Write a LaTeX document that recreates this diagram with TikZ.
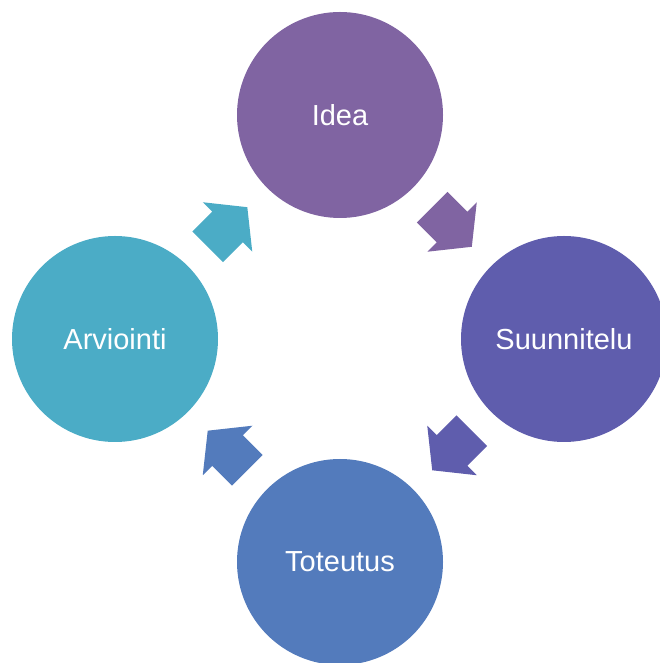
\documentclass[tikz,border=0pt]{standalone}
\usepackage{fontspec}
\setmainfont{Liberation Sans}
\usetikzlibrary{calc}
\definecolor{cIdea}{HTML}{8064A2}
\definecolor{cSuun}{HTML}{5F5DAD}
\definecolor{cTot}{HTML}{537BBC}
\definecolor{cArv}{HTML}{4BACC6}
\tikzset{
  stage/.style={circle, minimum size=206pt, inner sep=0pt, text=white,
    font=\fontsize{29}{34}\selectfont},
  blockarrow/.pic={
    \path[pic actions] (-28,-21.7) -- (0,-21.7) -- (0,-35) -- (28,0) -- (0,35) -- (0,21.7) -- (-28,21.7) -- cycle;
  }
}
\begin{document}
\begin{tikzpicture}[x=1pt,y=1pt]
\useasboundingbox (0,0) rectangle (660,663);
\clip (0,0) rectangle (660,663);
\node[stage, fill=cIdea] (idea) at (340,548) {Idea};
\node[stage, fill=cSuun] (suun) at (564,324) {Suunnitelu};
\node[stage, fill=cTot] (tot) at (340,101) {Toteutus};
\node[stage, fill=cArv] (arv) at (115,324) {Arviointi};
\pic[fill=cIdea, rotate=-45] at ($(idea)!0.5!(suun)$) {blockarrow};
\pic[fill=cSuun, rotate=-135] at ($(suun)!0.5!(tot)$) {blockarrow};
\pic[fill=cTot, rotate=135] at ($(tot)!0.5!(arv)$) {blockarrow};
\pic[fill=cArv, rotate=45] at ($(arv)!0.5!(idea)$) {blockarrow};
\end{tikzpicture}
\end{document}
